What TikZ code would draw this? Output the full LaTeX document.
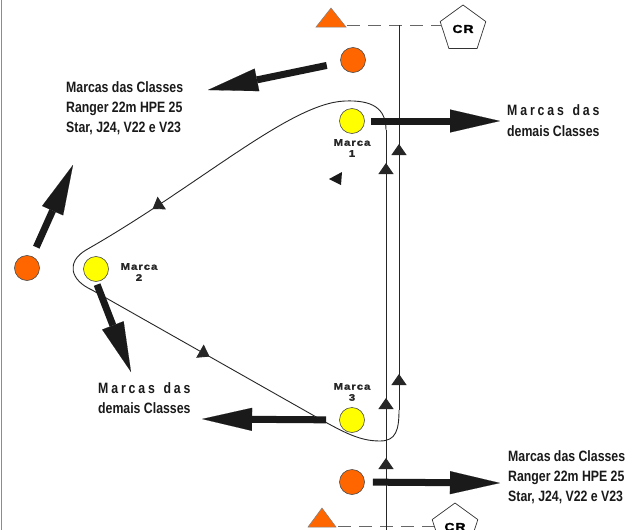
\documentclass[tikz,border=0pt]{standalone}
\usepackage{fontspec}
\setmainfont{Liberation Sans}
\newfontfamily\narrowfont{Liberation Sans}[FakeStretch=0.82]
\newfontfamily\markfont{Liberation Sans}[FakeStretch=1.2,LetterSpace=10,FakeBold=1.5]
\usetikzlibrary{arrows.meta,shapes.geometric,decorations.markings}
\definecolor{mkorange}{HTML}{FF6600}
\definecolor{mkyellow}{HTML}{FFFF00}
\definecolor{ink}{HTML}{1A1A1A}
\newlength\dcw
\newcommand\spreadmarcas{\settowidth\dcw{demais Classes}\makebox[\dcw][s]{M\hfill a\hfill r\hfill c\hfill a\hfill s\hfill\hfill\hfill d\hfill a\hfill s}}
\begin{document}
\begin{tikzpicture}[x=1pt,y=-1pt,
  buoy/.style={circle, draw=black!70, line width=0.6pt, minimum size=25pt, inner sep=0pt},
  course/.style={draw=black!85, line width=0.9pt},
  smallarrow/.style={postaction={decorate}, decoration={markings, #1}},
  tip/.tip={Triangle[width=15pt,length=11pt]},
  bigarrow/.style={draw=ink, line width=7pt, -{Triangle[length=50pt,width=23pt,line width=0.1pt]}},
  startline/.style={draw=black!60, line width=1pt, dash pattern=on 13pt off 8pt},
  pent/.style={regular polygon, regular polygon sides=5, minimum size=48pt, inner sep=0pt, draw=black!80, line width=0.7pt, fill=white, font=\markfont\bfseries\fontsize{11.5}{12}\selectfont},
  marklabel/.style={align=center, inner sep=0pt, text=black!85, font=\markfont\bfseries\fontsize{9.5}{11}\selectfont},
  txt/.style={align=left, inner sep=0pt, text=ink, font=\narrowfont\bfseries\fontsize{15}{20}\selectfont},
  txtb/.style={align=left, inner sep=0pt, text=ink, font=\narrowfont\bfseries\fontsize{15}{21}\selectfont}
]
\useasboundingbox (0,0) rectangle (640,530);
\fill[white] (0,0) rectangle (640,530);
\clip (0,0) rectangle (640,530);

% left border
\draw[black!45, line width=1.5pt] (1.5,0) -- (1.5,530);

% start / finish lines
\filldraw[fill=mkorange, draw=black!50, line width=0.5pt] (316,27) -- (346,27) -- (331,8) -- cycle;
\filldraw[fill=mkorange, draw=black!50, line width=0.5pt] (308,527) -- (336,527) -- (322,508) -- cycle;
\coordinate (ts1) at (347,25);
\coordinate (ts2) at (338,526);
\node[pent] (cr1) at (463,29) {CR};
\node[pent] (cr2) at (455,527) {CR};
\draw[startline] (ts1) -- (ts1 -| cr1.west);
\draw[startline] (ts2) -- (ts2 -| cr2.west);

% course
\coordinate (fin) at (399,25);
\coordinate (c0) at (386,532);
\coordinate (c1) at (386,130);
\coordinate (c2) at (345,101);
\coordinate (c3) at (86,250);
\coordinate (c4) at (92,290);
\coordinate (c5) at (318,418);
\coordinate (c6) at (399,410);
\draw[course, smallarrow={mark=at position 74pt with {\arrow{tip}},
                           mark=at position 134pt with {\arrow{tip}},
                           mark=at position 369pt with {\arrow{tip}}}] (c0) -- (c1);
\draw[course] (c1) .. controls (386,108) and (372,100) .. (c2);
\draw[course, smallarrow={mark=at position 0.74 with {\arrow{tip}}}] (c2) .. controls (290,103) and (200,185) .. (c3);
\draw[course] (c3) .. controls (66,262) and (70,280) .. (c4);
\draw[course, smallarrow={mark=at position 0.52 with {\arrow{tip}}}] (c4) -- (c5);
\draw[course] (c5) .. controls (345,433) and (360,441) .. (380,441) .. controls (396,441) and (399,430) .. (c6);
\draw[course, smallarrow={mark=at position 36pt with {\arrow{tip}},
                           mark=at position 266pt with {\arrow{tip}}}] (c6) -- (fin);

% stray arrowhead
\fill[ink] (329,179) -- (342,172) -- (341,185) -- cycle;

% buoys
\node[buoy, fill=mkorange] (otop) at (353,60) {};
\node[buoy, fill=mkorange] (oleft) at (27,268) {};
\node[buoy, fill=mkorange] (obot) at (352,482) {};
\node[buoy, fill=mkyellow] (m1) at (352,121) {};
\node[buoy, fill=mkyellow] (m2) at (96,269) {};
\node[buoy, fill=mkyellow] (m3) at (352,420) {};

% mark labels
\node[marklabel] (l1) at (352,148) {Marca\\1};
\node[marklabel] (l2) at (139,272) {Marca\\2};
\node[marklabel] (l3) at (352,392) {Marca\\3};

% thick arrows
\coordinate (ta) at (208,90);
\coordinate (tb) at (500,121);
\coordinate (tc) at (73,165);
\coordinate (td) at (131,372);
\coordinate (te) at (202,419);
\coordinate (tf) at (500,483);
\draw[bigarrow, shorten <=14pt] (otop) -- (ta);
\draw[bigarrow, shorten <=6pt] (m1) -- (tb);
\draw[bigarrow, shorten <=10pt] (oleft) -- (tc);
\draw[bigarrow, shorten <=3pt] (m2.south) -- (td);
\draw[bigarrow, shorten <=13pt] (m3) -- (te);
\draw[bigarrow, shorten <=8pt] (obot) -- (tf);

% texts (anchor at baseline of last line)
\node[txt, anchor=base west] (t1) at (66,132) {Marcas das Classes\\Ranger 22m HPE 25\\Star, J24, V22 e V23};
\node[txt, anchor=base west] (t2) at (508,501) {Marcas das Classes\\Ranger 22m HPE 25\\Star, J24, V22 e V23};
\node[txtb, anchor=base west] (t3) at (507,136) {\spreadmarcas\\demais Classes};
\node[txt, anchor=base west] (t4) at (98,413) {\spreadmarcas\\demais Classes};
\end{tikzpicture}
\end{document}
